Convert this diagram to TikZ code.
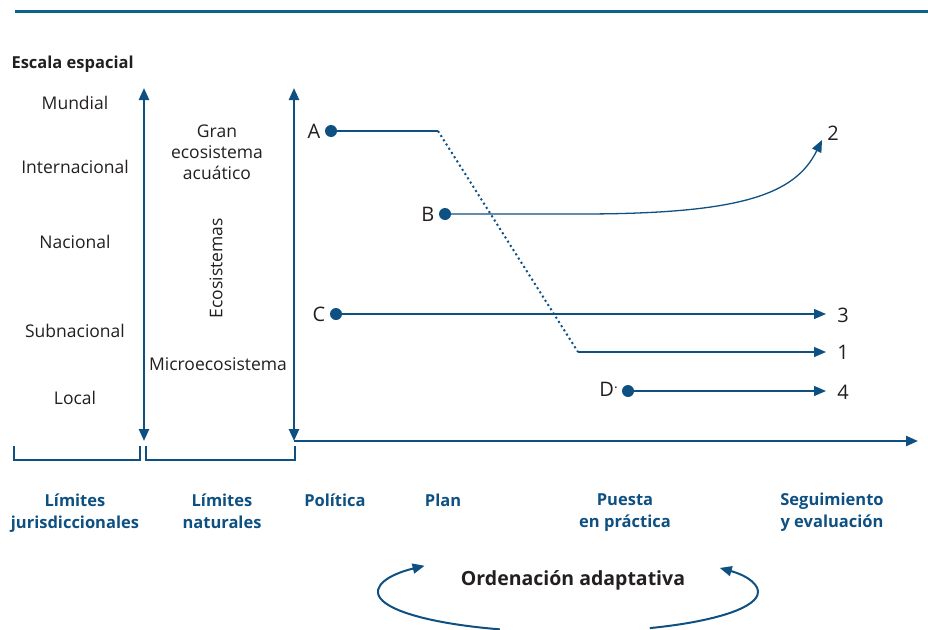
\documentclass[tikz,border=0pt]{standalone}
\usepackage{fontspec}
\setmainfont{Open Sans}
\usepackage{xcolor}
\definecolor{fignavy}{RGB}{14, 80, 130}
\definecolor{figtext}{RGB}{35, 31, 32}
\usetikzlibrary{arrows.meta, positioning, calc}

\tikzset{
    scalelabel/.style={font=\fontsize{17.5}{21}\selectfont, text=figtext},
    pointlabel/.style={font=\fontsize{20}{24}\selectfont, text=figtext},
    stagelabel/.style={font=\fontsize{16.5}{22}\selectfont\bfseries, text=fignavy, align=center},
    axisline/.style={line width=2.4pt, fignavy},
    pathline/.style={line width=1.3pt, fignavy},
    dotmark/.style={circle, fill=fignavy, inner sep=0pt, minimum size=12pt},
}

\begin{document}
\begin{tikzpicture}[x=1pt, y=-1pt, >={Triangle[length=12pt, width=10pt]}]
    \useasboundingbox (0,0) rectangle (928,629);

    % top rule
    \draw[line width=3pt, fignavy!90!cyan] (15,11) -- (928,11);

    \node[anchor=west, font=\fontsize{16.5}{20}\selectfont\bfseries, text=figtext] (title) at (8,64) {Escala espacial};

    % scale labels
    \node[scalelabel] (mundial) at (75,103) {Mundial};
    \node[scalelabel] (internacional) at (75,167) {Internacional};
    \node[scalelabel] (nacional) at (75,242) {Nacional};
    \node[scalelabel] (subnacional) at (75,331) {Subnacional};
    \node[scalelabel] (local) at (75,398) {Local};

    \node[scalelabel, align=center] (gran) at (217,152) {Gran\\ecosistema\\acuático};
    \node[scalelabel, rotate=90] (ecos) at (216,268) {Ecosistemas};
    \node[scalelabel] (micro) at (218,364) {Microecosistema};

    % axes
    \coordinate (jurTop) at (144,88);
    \coordinate (jurBot) at (144,441);
    \coordinate (natTop) at (294,88);
    \coordinate (natBot) at (294,441);
    \coordinate (timeEnd) at (918,441);
    \draw[axisline, <->] (jurTop) -- (jurBot);
    \draw[axisline, <->] (natTop) -- (natBot);
    \draw[axisline, ->] (natBot) -- (timeEnd);

    % brackets
    \draw[axisline, line width=2.2pt] (14,446) |- (140,460) -- (140,446);
    \draw[axisline, line width=2.2pt] (146,446) |- (295,460) -- (295,446);

    % stage labels
    \node[stagelabel] (limJur) at (75,513) {Límites\\jurisdiccionales};
    \node[stagelabel] (limNat) at (222,511) {Límites\\naturales};
    \node[stagelabel] (politica) at (335,500) {Política};
    \node[stagelabel] (plan) at (443,500) {Plan};
    \node[stagelabel] (puesta) at (625,513) {Puesta\\en práctica};
    \node[stagelabel] (seguimiento) at (832,512) {Seguimiento\\y evaluación};

    % trajectories
    \node[dotmark] (dotA) at (331,131) {};
    \node[dotmark] (dotB) at (445,214) {};
    \node[dotmark] (dotC) at (336,314) {};
    \node[dotmark] (dotD) at (628,391) {};
    \node[pointlabel, left=1pt of dotA] (labA) {A};
    \node[pointlabel, left=1pt of dotB] (labB) {B};
    \node[pointlabel, left=1pt of dotC] (labC) {C};
    \node[pointlabel, left=0pt of dotD, yshift=2pt] (labD) {D\textsuperscript{.}};

    \coordinate (kinkA) at (438,131);
    \coordinate (kinkB) at (578,352);
    \coordinate (endOne) at (826,352);
    \coordinate (endTwo) at (822,140);
    \coordinate (endThree) at (826,314);
    \coordinate (endFour) at (826,391);

    \draw[pathline] (dotA) -- (kinkA);
    \draw[fignavy, line width=2pt, dash pattern=on 2pt off 3pt] (kinkA) -- (kinkB);
    \draw[pathline, ->] (kinkB) -- (endOne);
    \draw[pathline, ->] (dotB) -- (580,214) .. controls (740,214) and (795,195) .. (endTwo);
    \draw[pathline, ->] (dotC) -- (endThree);
    \draw[pathline, ->] (dotD) -- (endFour);

    \node[pointlabel] (outOne) at (843,352) {1};
    \node[pointlabel] (outTwo) at (833,133) {2};
    \node[pointlabel] (outThree) at (843,315) {3};
    \node[pointlabel] (outFour) at (843,392) {4};

    % adaptive cycle
    \coordinate (cycle) at (568,592);
    \node[font=\fontsize{19.5}{22}\selectfont\bfseries, text=figtext] (ordenacion) at (573,580) {Ordenación adaptativa};
    \draw[pathline, line width=2pt, ->] ($(cycle)+(111:190 and 40)$) arc[start angle=111, end angle=221, x radius=190, y radius=40];
    \draw[pathline, line width=2pt, ->] ($(cycle)+(64.5:190 and 40)$) arc[start angle=64.5, end angle=-37, x radius=190, y radius=40];
\end{tikzpicture}
\end{document}
